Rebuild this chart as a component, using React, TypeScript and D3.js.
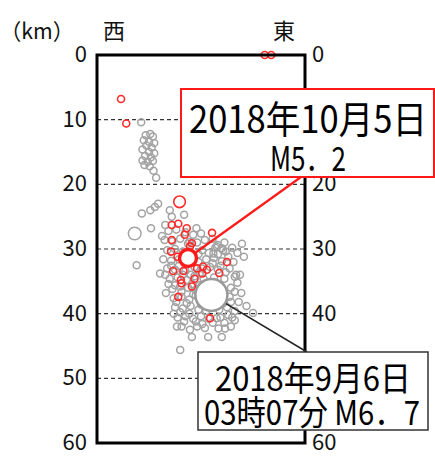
import * as d3 from "d3";

const W = 435;
const H = 457;

// depth ticks (km)
const depthTicks = [0, 10, 20, 30, 40, 50, 60];

// hypocentres: [east-west distance km, depth km]
const grayQuakes: [number, number][] = [
  [6.8, 10.4],
  [7.5, 12.4], [8.2, 12.2], [8.6, 12.6], [7.2, 13.2], [8.0, 13.4], [8.8, 13.6],
  [7.6, 14.0], [8.4, 14.3], [7.0, 14.6], [8.0, 15.0], [8.8, 15.2], [7.4, 15.6],
  [8.3, 15.8], [7.0, 16.3], [7.8, 16.5], [8.6, 16.4], [7.3, 17.0], [8.1, 17.2],
  [8.7, 17.9], [9.1, 19.0],
  [6.9, 24.5], [8.2, 24.0], [8.9, 23.5], [9.4, 23.0], [8.3, 26.8], [6.1, 32.5],
  [10.0, 28.0], [10.5, 26.3], [11.2, 24.0], [11.5, 25.0], [13.4, 24.7], [15.3, 26.8],
  [22.3, 29.2], [21.0, 32.0], [22.0, 34.0], [21.2, 34.3], [9.7, 33.8], [10.5, 34.0],
  [18.4, 29.6], [19.2, 29.9], [17.9, 30.7], [24.0, 39.9], [12.8, 45.6],
  [12.3, 42.0], [14.3, 42.5], [14.6, 43.6], [17.1, 43.6], [19.2, 43.6], [19.7, 42.3],
  [18.7, 42.3], [18.4, 40.7],
  [11.0, 27.2], [12.2, 27.0], [13.6, 27.4], [14.8, 27.8], [16.0, 27.6],
  [10.4, 28.6], [11.6, 28.8], [12.8, 28.4], [14.2, 28.9], [15.4, 29.0], [16.6, 28.6], [17.8, 28.4],
  [10.8, 30.2], [12.0, 30.0], [13.2, 30.4], [16.2, 30.2], [17.2, 30.6], [18.6, 30.8], [19.8, 30.4],
  [10.2, 31.6], [11.4, 31.8], [16.8, 31.6], [18.0, 31.4], [19.2, 31.9], [20.2, 31.2],
  [10.8, 33.0], [12.0, 33.2], [13.6, 33.4], [15.0, 32.8], [16.2, 33.0], [17.4, 32.8], [18.6, 33.2], [20.4, 33.0],
  [11.2, 34.6], [12.4, 34.4], [13.8, 34.8], [15.0, 34.2], [16.4, 34.6], [19.6, 34.6], [21.4, 34.0],
  [11.6, 36.2], [12.8, 35.8], [14.0, 36.0], [15.2, 36.4], [20.6, 36.0],
  [11.8, 37.6], [13.0, 37.4], [14.2, 37.8], [15.2, 37.2], [20.4, 37.4],
  [12.0, 39.0], [13.2, 39.2], [14.4, 38.8], [15.6, 39.4], [16.8, 39.6], [18.8, 39.4], [20.0, 39.0], [21.2, 39.6],
  [12.4, 40.6], [13.6, 40.4], [14.8, 40.8], [16.0, 40.4], [17.2, 40.8], [19.0, 40.6], [20.2, 40.2], [21.2, 41.0],
  [13.0, 42.0], [15.4, 42.0], [16.6, 42.2], [20.6, 42.0],
  [22.2, 36.8], [21.8, 38.2], [23.0, 38.8],
  [14.0, 29.2], [15.6, 30.8], [18.2, 29.8], [19.6, 29.0], [20.8, 29.8], [21.6, 30.6], [22.6, 31.2],
  [18.6, 29.4], [19.4, 30.2], [11.0, 35.4], [12.2, 38.2], [13.4, 41.2], [14.0, 31.0],
  [15.8, 35.6], [16.6, 36.4], [13.6, 32.0], [12.6, 31.6], [11.8, 40.0], [10.6, 36.8],
  [12.6, 32.6], [13.0, 36.6], [14.4, 34.0], [14.8, 37.0], [13.8, 38.4], [12.8, 39.8],
  [14.2, 40.0], [15.2, 41.2], [16.2, 41.6], [17.8, 41.4], [19.6, 41.4], [20.8, 40.6],
  [19.4, 38.4], [20.6, 38.2], [16.0, 38.6], [15.6, 32.0], [17.8, 32.2], [19.0, 32.6],
  [19.8, 33.6], [15.8, 33.8], [11.4, 32.6], [12.0, 35.6], [13.2, 34.0], [14.6, 35.4],
  [18.0, 34.4], [21.2, 36.6], [21.6, 35.2],
];

const redQuakes: [number, number][] = [
  [3.7, 6.8], [4.5, 10.6], [25.8, 0], [26.8, 0],
  [11.5, 26.3], [12.5, 26.1], [13.8, 26.8], [17.7, 27.5], [13.5, 27.8],
  [14.3, 29.6], [11.4, 30.4], [11.5, 28.6], [14.6, 29.1], [20.0, 32.0],
  [18.8, 33.7], [13.3, 33.4], [16.3, 32.7], [16.9, 33.2], [12.9, 34.8],
  [12.5, 37.4], [11.7, 33.4], [14.6, 35.8], [13.0, 35.3], [17.4, 40.7],
  [16.2, 33.8], [15.0, 34.6], [15.4, 33.0], [12.4, 31.2],
];

// larger events: [east, depth, magnitude]
const grayLarge: [number, number, number][] = [[5.8, 27.6, 3.8]];
const redLarge: [number, number, number][] = [[12.7, 22.7, 3.5]];
const mainShock: [number, number, number] = [17.6, 37.1, 6.7];
const aftershock: [number, number, number] = [14.0, 31.4, 5.2];

const redLabel = ["2018年10月5日", "M5．2"];
const blackLabel = ["2018年9月6日", "03時07分 M6．7"];

const font = "'Noto Sans CJK JP', 'Noto Sans', sans-serif";

export default function App() {
  const x = d3.scaleLinear().domain([0, 32]).range([97, 305]);
  const y = d3.scaleLinear().domain([0, 60]).range([55, 443]);
  const r = d3.scaleLinear().domain([2, 5.2, 6.7]).range([3.5, 8.5, 16]);

  const small = r(2);
  const [x0, x1] = x.range();

  // annotation boxes
  const redBox = { x: 181, y: 89, w: 253, h: 88 };
  const blackBox = { x: 198, y: 352, w: 230, h: 78 };

  // leader lines from event edge to box
  const lead = (ev: [number, number, number], tx: number, ty: number) => {
    const cx = x(ev[0]);
    const cy = y(ev[1]);
    const a = Math.atan2(ty - cy, tx - cx);
    const rr = r(ev[2]) + 1;
    return { x1: cx + Math.cos(a) * rr, y1: cy + Math.sin(a) * rr, x2: tx, y2: ty };
  };
  const redLead = lead(aftershock, 301, redBox.y + redBox.h);
  const blackLead = lead(mainShock, 307, blackBox.y);

  return (
    <svg width={W} height={H} style={{ position: "absolute", left: 0, top: 0, background: "#fff" }}>
      {/* grid */}
      {depthTicks.slice(1, -1).map(t => (
        <line key={t} x1={x0} x2={x1} y1={y(t)} y2={y(t)} stroke="#333" strokeWidth={1.2} strokeDasharray="4,3" />
      ))}

      {/* quakes */}
      <g fill="none" stroke="#a3a3a3" strokeWidth={1.5}>
        {grayQuakes.map((d, i) => (
          <circle key={i} cx={x(d[0])} cy={y(d[1])} r={small} />
        ))}
        {grayLarge.map((d, i) => (
          <circle key={i} cx={x(d[0])} cy={y(d[1])} r={r(d[2])} />
        ))}
      </g>
      <g fill="none" stroke="#ff2a2a" strokeWidth={1.6}>
        {redQuakes.map((d, i) => (
          <circle key={i} cx={x(d[0])} cy={y(d[1])} r={small} />
        ))}
        {redLarge.map((d, i) => (
          <circle key={i} cx={x(d[0])} cy={y(d[1])} r={r(d[2])} />
        ))}
      </g>
      <circle cx={x(mainShock[0])} cy={y(mainShock[1])} r={r(mainShock[2])} fill="#fff" stroke="#999" strokeWidth={2.5} />
      <circle cx={x(aftershock[0])} cy={y(aftershock[1])} r={r(aftershock[2])} fill="#fff" stroke="#ff1a1a" strokeWidth={3.4} />

      {/* frame */}
      <rect x={x0} y={y(0)} width={x1 - x0} height={y(60) - y(0)} fill="none" stroke="#000" strokeWidth={3} />

      {/* depth labels both sides */}
      <g fontFamily={font} fontSize={22} fill="#111" dominantBaseline="middle">
        {depthTicks.map(t => (
          <text key={"l" + t} x={87} y={y(t) + 1} textAnchor="end">{t}</text>
        ))}
        {depthTicks.map(t => (
          <text key={"r" + t} x={312} y={y(t) + 1} textAnchor="start">{t}</text>
        ))}
      </g>
      <text x={0} y={39} fontFamily={font} fontSize={22} fill="#111" textLength={74} lengthAdjust="spacingAndGlyphs">（km）</text>
      <text x={114} y={39} fontFamily={font} fontSize={22} fill="#111" textAnchor="middle">西</text>
      <text x={284} y={39} fontFamily={font} fontSize={22} fill="#111" textAnchor="middle">東</text>

      {/* leader lines */}
      <line {...redLead} stroke="#ff1a1a" strokeWidth={2.2} />
      <line {...blackLead} stroke="#222" strokeWidth={1.5} />

      {/* red annotation */}
      <rect x={redBox.x} y={redBox.y} width={redBox.w} height={redBox.h} fill="#fff" stroke="#ff1a1a" strokeWidth={2} />
      <g fontFamily={font} fill="#000" textAnchor="middle">
        <text x={308} y={133} fontSize={38} textLength={238} lengthAdjust="spacingAndGlyphs">{redLabel[0]}</text>
        <text x={308} y={171} fontSize={34} textLength={76} lengthAdjust="spacingAndGlyphs">{redLabel[1]}</text>
      </g>

      {/* black annotation */}
      <rect x={blackBox.x} y={blackBox.y} width={blackBox.w} height={blackBox.h} fill="#fff" stroke="#333" strokeWidth={1.5} />
      <g fontFamily={font} fill="#000" textAnchor="middle">
        <text x={313} y={391} fontSize={34} textLength={196} lengthAdjust="spacingAndGlyphs">{blackLabel[0]}</text>
        <text x={312} y={425} fontSize={34} textLength={216} lengthAdjust="spacingAndGlyphs">{blackLabel[1]}</text>
      </g>
    </svg>
  );
}
